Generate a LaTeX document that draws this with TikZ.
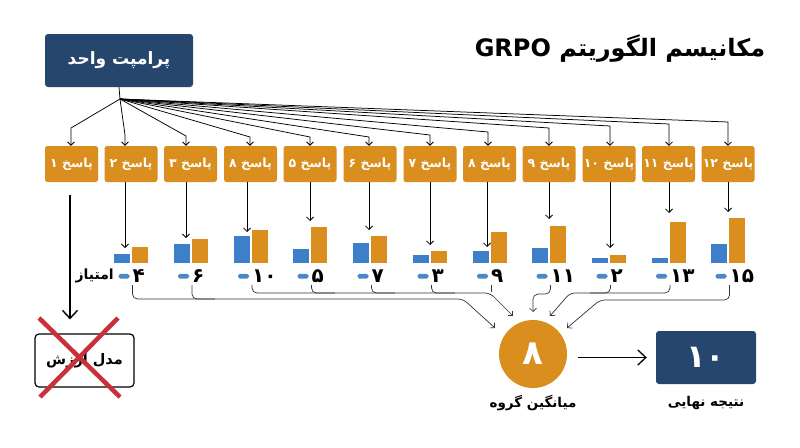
\documentclass[tikz,border=0pt]{standalone}
\usepackage{fontspec}
\setmainfont{DejaVu Sans}
\newfontfamily\arabicfont[Script=Arabic]{DejaVu Sans}
\TeXXeTstate=1
\usetikzlibrary{arrows.meta,calc}
\definecolor{navy}{HTML}{26466E}
\definecolor{amber}{HTML}{D98E1E}
\definecolor{barblue}{HTML}{3D7FC8}
\definecolor{dashblue}{HTML}{4A88C8}
\definecolor{xred}{HTML}{C8303A}
\definecolor{brkgray}{HTML}{333333}
\tikzset{
  arr/.style={-{Straight Barb[length=3.5pt,width=7pt]}, line width=0.75pt, black},
  bigarr/.style={-{Straight Barb[length=8pt,width=15pt]}, line width=1.3pt, black},
  brk/.style={line width=0.7pt, brkgray, rounded corners=5pt},
  brkarr/.style={brk, -{Straight Barb[length=3.5pt,width=7pt]}},
  resp/.style={fill=amber, rounded corners=2.5pt, minimum width=53pt, minimum height=36pt, inner sep=0pt, text=white, font=\arabicfont\bfseries\fontsize{12.5}{14}\selectfont},
  navybox/.style={fill=navy, rounded corners=3pt, inner sep=0pt, text=white},
  score/.style={inner sep=0pt, anchor=west, font=\arabicfont\bfseries\fontsize{20}{22}\selectfont},
  lbl/.style={inner sep=0pt, font=\arabicfont\bfseries\fontsize{13.5}{16}\selectfont},
}
\begin{document}
\begin{tikzpicture}[x=1pt,y=-1pt]
\useasboundingbox (0,0) rectangle (800,447);

% title
\node[inner sep=0pt, font=\arabicfont\bfseries\fontsize{24}{28}\selectfont] (title) at (620,49)
  {\beginR مکانیسم الگوریتم \beginL GRPO\endL\endR};

% prompt
\node[navybox, minimum width=148pt, minimum height=53pt, font=\arabicfont\bfseries\fontsize{17}{20}\selectfont] (p) at (119,60.5)
  {\beginR پرامپت واحد\endR};
\coordinate (f) at (120,99);
\draw[line width=0.75pt] (p.south) -- (f);

% responses
\foreach \i/\c/\lab in {1/71.5/۱, 2/131/۲, 3/190.5/۳, 4/250.5/۸, 5/310/۵, 6/370/۶, 7/430/۷, 8/489.5/۸, 9/549/۹, 10/609/۱۰, 11/668.5/۱۱, 12/728/۱۲}
  \node[resp] (r\i) at (\c,164) {\beginR پاسخ \lab\endR};

% fan arrows
\foreach \i/\ax/\bend in {1/71/128, 2/125/135, 3/186/136, 4/250/137, 5/310/137, 6/369/137, 7/430/135, 8/488/132, 9/549/128, 10/610/126, 11/669/124, 12/728/122} {
  \coordinate (k\i) at (\ax,\bend);
  \draw[arr] (f) -- (k\i) -- (k\i |- r\i.north);
}

% arrows down to bars
\foreach \i/\ax/\tip in {2/125/248, 3/186/238, 4/247/232, 5/310/221, 6/369/230, 7/430/245, 8/487/247, 9/549/219, 10/610/248, 11/669/213, 12/728/212} {
  \coordinate (d\i) at (\ax,\tip);
  \draw[arr] (d\i |- r\i.south) -- (d\i);
}

% bars, dashes, scores
\foreach \i/\c/\bt/\ot/\n in {2/131/254/247/۴, 3/190.5/244/239/۶, 4/250.5/236/230/۱۰, 5/310/249/227/۵, 6/370/243/236/۷, 7/430/255/251/۳, 8/489.5/251/232/۹, 9/549/248/226/۱۱, 10/609/258/255/۲, 11/668.5/258/222/۱۳, 12/728/244/218/۱۵} {
  \fill[barblue] (\c-17,263) rectangle (\c-1,\bt);
  \fill[amber] (\c+1,263) rectangle (\c+17,\ot);
  \fill[dashblue, rounded corners=1.8pt] (\c-12.5,273.8) rectangle (\c-1.5,278.6);
  \node[score] (s\i) at (\c+1.5,276) {\n};
}
\node[inner sep=0pt, anchor=east, font=\arabicfont\bfseries\fontsize{14}{16}\selectfont] (amt) at (114,276) {\beginR امتیاز\endR};

% average and result
\node[circle, fill=amber, minimum size=68pt, inner sep=0pt, text=white, font=\arabicfont\bfseries\fontsize{34}{36}\selectfont] (avg) at (533,354) {۸};
\node[navybox, minimum width=100pt, minimum height=53pt, font=\arabicfont\bfseries\fontsize{32}{34}\selectfont] (res) at (706,357.5) {۱۰};
\node[lbl] (avgl) at (533,403) {\beginR میانگین گروه\endR};
\node[lbl] (resl) at (706,403) {\beginR نتیجه نهایی\endR};
\draw[bigarr, shorten <=11pt, shorten >=9pt] (avg.east |- res.west) -- (res.west);

% brackets to the average
\coordinate (tA) at (495,328);
\coordinate (tB) at (513,316);
\coordinate (tC) at (533,312);
\coordinate (tD) at (550,316);
\coordinate (tE) at (567,328);
\draw[brkarr] ([yshift=-9pt]s2.west) |- (463,299) -- (tA);
\draw[brk] ([yshift=-9pt]s3.west) |- (215,299);
\draw[brkarr] ([yshift=-9pt]s4.west) |- (490,293) -- (tB);
\draw[brk] ([yshift=-9pt]s5.west) |- (335,293);
\draw[brk] ([yshift=-9pt]s6.west) |- (395,293);
\draw[brk] ([yshift=-9pt]s7.west) |- (455,293);
\draw[brk] ([yshift=-9pt]s8.west) -- ++(0,7);
\draw[brkarr] ([yshift=-9pt]s9.west) -- ++(0,9) -- (533,294) -- (tC);
\draw[brkarr] ([yshift=-9pt]s11.west) |- (570,293) -- (tD);
\draw[brk] ([yshift=-9pt]s10.west) |- (590,293);
\draw[brkarr] ([yshift=-9pt]s12.west) |- (600,300) -- (tE);

% value model (removed)
\node[draw=black, line width=1.2pt, fill=white, rounded corners=4pt, minimum width=99pt, minimum height=53pt, inner sep=0pt, font=\arabicfont\bfseries\fontsize{14.5}{17}\selectfont] (vm) at (84.5,360.5) {\beginR مدل ارزش\endR};
\coordinate (v1) at (70,195);
\draw[bigarr, line width=1.4pt, shorten >=14pt] (v1) -- (v1 |- vm.north);
\draw[xred, line width=4.5pt] (39,318) -- (120,397);
\draw[xred, line width=4.5pt] (118,318) -- (40,397);
\end{tikzpicture}
\end{document}
